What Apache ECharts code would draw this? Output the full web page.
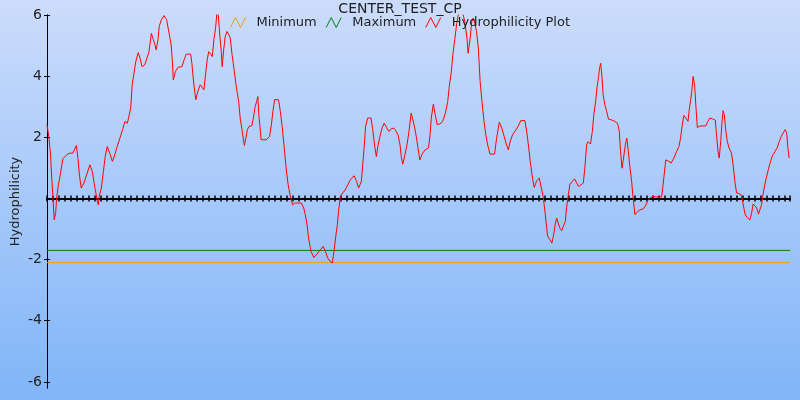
<!DOCTYPE html>
<html>
<head>
<meta charset="utf-8">
<script src="https://cdn.jsdelivr.net/npm/echarts@6/dist/echarts.min.js"></script>
<style>html,body{margin:0;padding:0;}#c{width:800px;height:400px;}</style>
</head>
<body>
<div id="c"></div>
<script>
// Residue position (sequence index) and hydrophilicity value
const position = [0.0,0.6,1.2,1.4,2.0,2.4,2.9,3.2,3.8,4.6,5.3,6.3,7.3,8.6,9.8,10.3,10.8,11.4,12.3,13.2,14.3,15.1,15.9,16.8,17.1,17.4,18.1,18.8,19.4,20.1,20.9,21.8,22.6,23.4,24.3,25.2,26.0,26.8,27.3,27.9,28.4,29.0,29.6,30.4,31.0,31.7,32.6,33.2,34.0,34.8,35.3,36.0,36.4,37.0,37.4,38.1,39.0,39.9,40.7,41.4,41.8,42.1,42.8,43.7,45.0,45.7,46.4,47.9,48.3,48.9,49.6,50.3,51.1,51.8,52.3,52.9,53.4,53.9,54.6,55.1,55.7,56.2,56.7,57.1,57.6,58.1,58.4,58.9,59.4,60.0,60.7,61.1,61.7,62.3,63.1,63.9,64.4,65.0,65.8,66.2,66.8,67.3,68.3,68.8,69.4,69.9,70.3,70.6,71.0,71.4,72.0,73.1,74.2,74.8,75.3,75.9,77.2,77.8,78.4,79.0,79.4,79.9,80.4,80.9,81.4,81.9,82.6,84.8,85.6,86.1,86.7,87.2,88.0,89.0,90.0,91.1,92.1,92.8,93.6,94.4,95.1,95.7,96.2,96.8,97.2,97.8,98.6,99.4,100.3,101.1,102.4,103.2,103.9,104.8,105.3,105.8,106.2,106.9,108.0,108.6,109.2,109.8,110.3,111.0,111.7,112.4,113.2,114.0,114.8,115.6,116.3,117.0,117.7,118.1,118.6,119.2,120.0,120.6,121.0,121.4,122.0,122.6,123.1,123.6,124.3,125.2,126.1,127.2,127.7,128.1,128.8,129.4,130.1,131.0,131.9,132.8,133.6,134.1,134.8,135.3,136.0,136.6,137.1,137.8,138.6,139.3,140.0,140.4,141.0,141.6,142.1,142.6,143.2,143.8,144.4,145.0,145.7,146.3,146.9,147.7,149.2,149.9,150.8,151.6,152.4,153.2,153.8,154.4,155.2,156.1,157.0,158.0,159.3,160.0,160.6,161.1,161.7,162.4,163.2,164.1,164.8,165.4,166.0,166.4,166.9,167.7,168.3,168.9,169.4,169.9,170.4,171.0,171.6,172.1,172.8,173.2,173.8,174.3,175.1,175.9,176.6,177.2,178.1,178.8,179.3,179.9,180.4,181.2,181.8,182.3,182.9,183.4,183.9,184.2,184.6,185.0,185.4,186.0,186.6,187.2,188.2,189.3,190.2,190.8,191.2,191.7,192.2,192.8,193.3,193.8,194.3,194.9,195.4,196.0,196.8,197.7,198.8,199.7,200.4,201.2,202.1,203.0,204.9,205.4,206.1,206.3,207.0,208.1,209.0,209.9,210.7,211.2,211.8,212.3,213.0,213.7,214.1,214.6,215.0,215.4,215.9,216.3,216.8,217.7,219.6,220.3,221.0,221.9,222.8,223.2,223.7,224.1,224.6,225.0,225.4,225.8,226.2,226.8,227.4,228.2,228.8,229.3,229.9,230.7,231.4,232.0,232.7,233.4,234.3,234.9,235.4,236.0,236.6,237.2,237.7,238.2,238.8,239.3,239.9,240.6,241.2,241.9,242.7,243.4,244.1,244.8,245.4,246.1,246.6,247.0,247.4];
const hydrophilicity = [2.41,2.03,1.43,0.99,0.01,-0.70,-0.47,0.00,0.45,0.88,1.30,1.40,1.48,1.48,1.73,1.32,0.77,0.34,0.50,0.77,1.10,0.88,0.39,-0.10,-0.21,0.07,0.34,0.88,1.37,1.70,1.48,1.21,1.43,1.70,1.97,2.25,2.52,2.46,2.41,2.95,3.72,4.10,4.48,4.77,4.59,4.31,4.37,4.42,4.80,5.40,5.24,5.02,4.86,5.19,5.62,5.84,5.98,5.84,5.40,5.02,4.48,3.88,4.15,4.29,4.31,4.53,4.72,4.72,4.42,3.77,3.23,3.50,3.72,3.63,3.55,4.10,4.53,4.80,4.72,4.64,5.24,5.57,6.13,6.00,5.35,4.80,4.31,4.86,5.29,5.46,5.35,5.24,4.70,4.26,3.66,3.17,2.63,2.25,1.73,1.92,2.25,2.35,2.38,2.63,3.01,3.17,3.33,2.74,2.35,1.92,1.86,1.92,2.03,2.41,2.84,3.23,3.23,2.84,2.35,1.75,1.32,0.83,0.45,0.18,-0.04,-0.21,-0.15,-0.15,-0.31,-0.53,-0.86,-1.29,-1.73,-1.93,-1.82,-1.68,-1.57,-1.73,-1.95,-2.06,-2.11,-1.73,-1.29,-0.86,-0.42,0.07,0.18,0.28,0.45,0.61,0.74,0.56,0.34,0.56,1.16,1.75,2.35,2.63,2.63,2.25,1.75,1.37,1.70,2.03,2.30,2.46,2.32,2.19,2.28,2.30,2.21,2.08,1.75,1.37,1.12,1.37,1.75,2.14,2.46,2.79,2.57,2.30,2.03,1.70,1.26,1.48,1.59,1.65,2.08,2.63,3.08,2.74,2.41,2.44,2.52,2.79,3.17,3.66,4.15,4.70,5.24,5.73,6.00,6.14,6.06,5.78,5.24,4.75,5.19,5.78,5.90,5.73,5.46,4.92,3.82,3.17,2.52,2.08,1.75,1.45,1.45,1.97,2.50,2.30,2.03,1.75,1.59,1.86,2.08,2.21,2.35,2.55,2.55,2.14,1.65,1.21,0.77,0.36,0.56,0.67,0.34,0.07,-0.42,-0.80,-1.24,-1.35,-1.46,-1.19,-0.86,-0.64,-0.80,-0.97,-1.05,-0.92,-0.75,-0.31,0.12,0.45,0.56,0.64,0.50,0.39,0.45,0.50,0.99,1.75,1.86,1.78,2.19,2.74,3.17,3.66,3.99,4.26,4.42,3.99,3.39,3.06,2.84,2.59,2.57,2.52,2.46,2.19,1.54,0.99,1.32,1.75,1.97,1.54,1.05,0.56,0.01,-0.53,-0.44,-0.37,-0.34,-0.21,-0.04,0.03,0.07,0.05,0.05,0.45,1.10,1.26,1.23,1.16,1.32,1.54,1.70,1.97,2.41,2.71,2.63,2.52,2.90,3.23,3.55,3.99,3.72,3.06,2.32,2.37,2.37,2.52,2.63,2.60,2.56,2.08,1.54,1.32,1.86,2.46,2.87,2.74,2.30,1.86,1.65,1.48,1.05,0.56,0.18,0.16,0.12,-0.15,-0.51,-0.62,-0.70,-0.48,-0.18,-0.12,-0.31,-0.51,-0.53,-0.21,0.18,0.45,0.72,0.99,1.21,1.41,1.54,1.65,1.86,2.03,2.14,2.25,2.14,1.65,1.32];
const xRange = [0, 247.7];
const minimumLevel = -2.1;
const maximumLevel = -1.7;
const yTickLabels = [-6, -4, -2, 2, 4, 6];
const titleText = 'CENTER_TEST_CP';
const seriesNames = ['Minimum', 'Maximum', 'Hydrophilicity Plot'];
const seriesColors = ['#f0a30a', '#00801a', '#ff0000'];

const plotData = position.map((p, i) => [p, hydrophilicity[i]]);
const minData = xRange.map(x => [x, minimumLevel]);
const maxData = xRange.map(x => [x, maximumLevel]);

const FONT = 'DejaVu Sans';
const zig = 'path://M0,10L5,0L10,10L15,0';
const chart = echarts.init(document.getElementById('c'), null, {renderer: 'canvas'});
const yCommon = {
  type: 'value', min: -6.2, max: 6, splitLine: {show: false},
  axisLine: {onZero: false, lineStyle: {color: '#000', width: 1}},
  axisTick: {show: true, length: 3, customValues: yTickLabels, lineStyle: {color: '#000'}}
};
chart.setOption({
  animation: false,
  backgroundColor: new echarts.graphic.LinearGradient(0, 0, 0, 1, [
    {offset: 0, color: '#ccdcfb'}, {offset: 1, color: '#80b5f8'}
  ]),
  textStyle: {fontFamily: FONT},
  title: {text: titleText, left: 'center', top: -3,
    textStyle: {fontFamily: FONT, fontSize: 14, fontWeight: 'normal', color: '#222'}},
  legend: {
    top: 11, left: 'center', itemWidth: 15, itemHeight: 10, itemGap: 9,
    textStyle: {fontFamily: FONT, fontSize: 13, color: '#222', padding: [0, 0, 0, 6]},
    data: seriesNames.map((n, i) => ({name: n, icon: zig,
      itemStyle: {color: 'transparent', borderColor: seriesColors[i], borderWidth: 1}}))
  },
  grid: {left: 47, right: 10, top: 15, bottom: 12, containLabel: false, outerBoundsMode: 'none'},
  xAxis: [
    {type: 'value', min: xRange[0], max: xRange[1], interval: 2, position: 'bottom',
     axisLine: {onZero: true, lineStyle: {color: '#000', width: 2}},
     axisTick: {show: true, length: 3, lineStyle: {color: '#000', width: 1.5}},
     axisLabel: {show: false}, splitLine: {show: false}},
    {type: 'value', min: xRange[0], max: xRange[1], interval: 2, position: 'top',
     axisLine: {onZero: true, onZeroAxisIndex: 0, lineStyle: {color: '#000', width: 2}},
     axisTick: {show: true, length: 3, lineStyle: {color: '#000', width: 1.5}},
     axisLabel: {show: false}, splitLine: {show: false}}
  ],
  yAxis: [
    Object.assign({}, yCommon, {position: 'left',
      name: 'Hydrophilicity', nameLocation: 'middle', nameGap: 25, nameMoveOverlap: false,
      nameTextStyle: {fontFamily: FONT, fontSize: 13, color: '#222'},
      axisLabel: {show: true, customValues: yTickLabels, margin: 5,
        fontFamily: FONT, fontSize: 14, color: '#222'}}),
    Object.assign({}, yCommon, {position: 'right', axisLine: {onZero: true, onZeroAxisIndex: 0, lineStyle: {color: '#000', width: 1}},
      axisLabel: {show: false}})
  ],
  series: [
    {name: seriesNames[0], type: 'line', data: minData, symbol: 'none',
     lineStyle: {color: seriesColors[0], width: 1}, itemStyle: {color: seriesColors[0]}},
    {name: seriesNames[1], type: 'line', data: maxData, symbol: 'none',
     lineStyle: {color: seriesColors[1], width: 1}, itemStyle: {color: seriesColors[1]}},
    {name: seriesNames[2], type: 'line', data: plotData, symbol: 'none',
     lineStyle: {color: seriesColors[2], width: 1}, itemStyle: {color: seriesColors[2]}}
  ]
});
</script>
</body>
</html>
